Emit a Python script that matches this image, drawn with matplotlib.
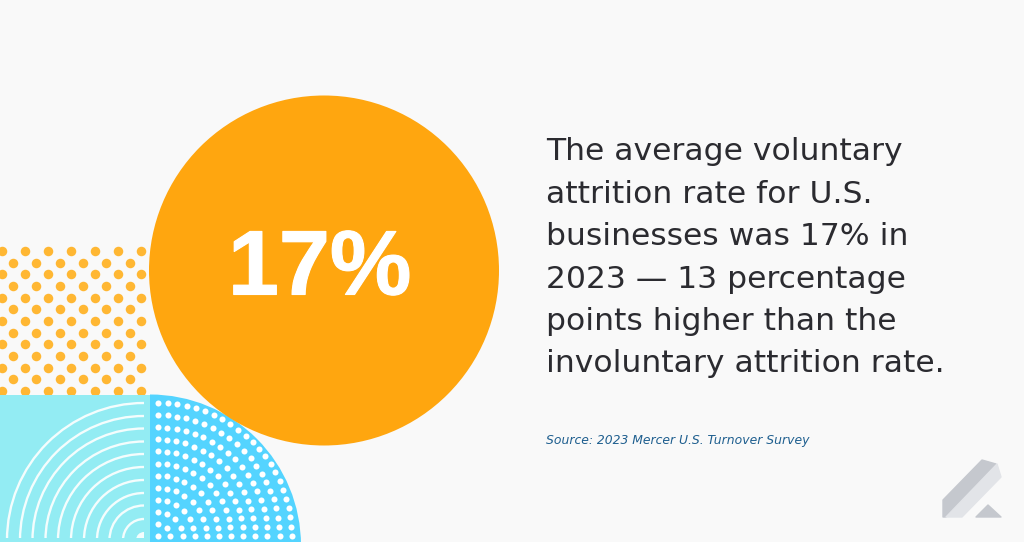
import matplotlib
matplotlib.use("Agg")
import matplotlib.patheffects as pe
import matplotlib.pyplot as plt
import numpy as np
from matplotlib.patches import Circle, Polygon, Rectangle, Arc, Wedge

BG = "#F9F9F9"
ORANGE = "#FFA60F"
DOT_ORANGE = "#FFB733"
CYAN = "#93ECF3"
BLUE = "#54D4FF"

headline = "17%"
body_lines = [
    "The average voluntary",
    "attrition rate for U.S.",
    "businesses was 17% in",
    "2023 \u2014 13 percentage",
    "points higher than the",
    "involuntary attrition rate.",
]
source = "Source: 2023 Mercer U.S. Turnover Survey"
arc_radii = [137, 124, 111.5, 98.5, 86, 73, 60, 47, 34.5, 21]

fig = plt.figure(figsize=(10.24, 5.42), dpi=100, facecolor=BG)
ax = fig.add_axes([0, 0, 1, 1])
ax.set_xlim(0, 1024)
ax.set_ylim(542, 0)
ax.axis("off")

# orange dot block
dot_clip = Rectangle((0, 246), 146, 149, transform=ax.transData)
xs, ys = [], []
for row in range(14):
    for col in range(-1, 8):
        xs.append(1.5 + col * 23.3 + (row % 2) * 11.6)
        ys.append(251 + row * 11.65)
pts = ax.scatter(xs, ys, s=47, color=DOT_ORANGE, linewidths=0, zorder=1)
pts.set_clip_path(dot_clip)

# cyan square with arcs
ax.add_patch(Rectangle((0, 395), 150, 147, facecolor=CYAN, edgecolor="none", zorder=2))
arc_clip = Rectangle((0, 395), 144, 143, transform=ax.transData)
for r in arc_radii:
    arc = Arc((144, 540), 2 * r, 2 * r, theta1=180, theta2=270, color="#F4FDFD", lw=1.7, zorder=3)
    ax.add_patch(arc)
    arc.set_clip_path(arc_clip)
corner = Wedge((144, 540), 8, 180, 270, facecolor="#F4FDFD", edgecolor="none", zorder=3)
ax.add_patch(corner)
corner.set_clip_path(arc_clip)

# blue quarter disc, the y axis is flipped so the wedge angles are too
ax.add_patch(Wedge((150, 545.5), 151, 270, 360, facecolor=BLUE, edgecolor="none", zorder=2))

# white dots: 12 bent rows meeting on the diagonal, mirrored across it
origin_x, origin_y = 158.3, 536.3
outer = 133.4
step = np.pi / 44
wx, wy = [], []
for j in range(12):
    n = 11 - j
    top = outer * (1 - j / 11)
    diag = 94.3 * n / 11
    for i in range(n + 1):
        if n == 0:
            u, v = 0.0, 0.0
        else:
            u = diag * np.sin(i * step) / np.sin(n * step)
            v = top - (top - diag) * (1 - np.cos(i * step)) / (1 - np.cos(n * step))
        wx.append(origin_x + u)
        wy.append(origin_y - v)
        if i < n:
            wx.append(origin_x + v)
            wy.append(origin_y - u)
ax.scatter(wx, wy, s=19, color="white", linewidths=0, zorder=3)

# big circle
ax.add_patch(Circle((324, 270.5), 175, facecolor=ORANGE, edgecolor="none", zorder=4))
ax.text(319.5, 270.5, headline, color="white", fontsize=66, fontweight="bold", family="Liberation Sans",
        ha="center", va="center", zorder=5,
        path_effects=[pe.withStroke(linewidth=0.8, foreground="white")])

# copy
for i, line in enumerate(body_lines):
    ax.text(546, 152 + i * 42.4, line, color="#2B2B30", fontsize=22.6, family="DejaVu Sans",
            ha="left", va="center")
ax.text(546, 440.5, source, color="#1F5F8F", fontsize=8.9, style="italic", family="DejaVu Sans",
        ha="left", va="center")

# logo
logo_edge = dict(linewidth=1, joinstyle="round")
ax.add_patch(Polygon([(943, 500), (982, 460), (996, 464), (946, 517), (943, 517)],
                     facecolor="#C5C8CE", edgecolor="#C5C8CE", **logo_edge))
ax.add_patch(Polygon([(997, 464), (1001, 477), (962, 517), (946, 517)],
                     facecolor="#E2E4E8", edgecolor="#E2E4E8", **logo_edge))
ax.add_patch(Polygon([(988, 505), (1001, 517), (976, 517)],
                     facecolor="#C5C8CE", edgecolor="#C5C8CE", **logo_edge))

fig.savefig("out.png", dpi=100, facecolor=BG)
